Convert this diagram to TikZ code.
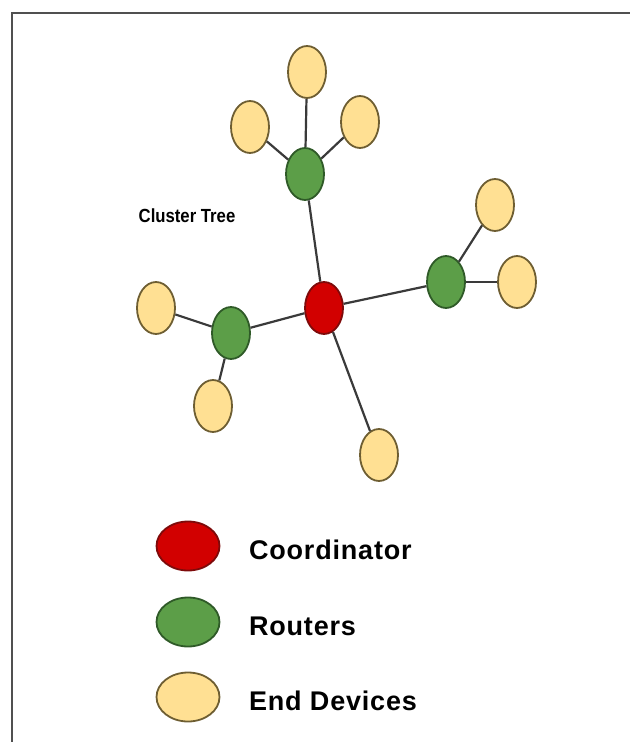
\documentclass[tikz,border=0pt]{standalone}
\usepackage{fontspec}
\setmainfont{Liberation Sans}
\newfontfamily\narrowfont[FakeStretch=0.88]{Liberation Sans}
\newfontfamily\keyfont[LetterSpace=3]{Liberation Sans}
\usetikzlibrary{shapes.geometric}

\definecolor{edfill}{HTML}{FFE093}
\definecolor{edline}{HTML}{6E5E32}
\definecolor{rtfill}{HTML}{5C9E48}
\definecolor{rtline}{HTML}{2F5A28}
\definecolor{cofill}{HTML}{D20000}
\definecolor{coline}{HTML}{7E0A0A}
\definecolor{linkgray}{HTML}{3A3A3A}
\definecolor{framegray}{HTML}{505050}

\begin{document}
\begin{tikzpicture}[x=0.5pt, y=-0.5pt,
  dev/.style={ellipse, draw=edline, line width=0.9pt, inner sep=0pt,
    minimum width=19pt, minimum height=26pt},
  enddev/.style={dev, fill=edfill},
  router/.style={dev, fill=rtfill, draw=rtline},
  coordnode/.style={dev, fill=cofill, draw=coline},
  keydev/.style={minimum width=31.5pt, minimum height=24.5pt},
  keytext/.style={anchor=west, font=\keyfont\bfseries\fontsize{13.5}{16}\selectfont},
  link/.style={draw=linkgray, line width=1.1pt}]
  \useasboundingbox (0,0) rectangle (630,742);
  \draw[framegray, line width=1.4pt] (12,742) -- (12,13) -- (630,13);

  \node[coordnode] (c0) at (324,308) {};
  \node[router] (r1) at (305,174) {};
  \node[router] (r2) at (446,282) {};
  \node[router] (r3) at (231,333) {};

  \node[enddev] (e1) at (307,72) {};
  \node[enddev] (e2) at (250,127) {};
  \node[enddev] (e3) at (360,122) {};
  \node[enddev] (e4) at (495,205) {};
  \node[enddev] (e5) at (517,282) {};
  \node[enddev] (e6) at (156,308) {};
  \node[enddev] (e7) at (213,406) {};
  \node[enddev] (e8) at (379,455) {};

  \node[font=\narrowfont\bfseries\fontsize{9.5}{11}\selectfont] (title) at (187,216) {Cluster Tree};

  \path[link]
  (r1) edge (e1)
  (r1) edge (e2)
  (r1) edge (e3)
  (c0) edge (r1)
  (c0) edge (r2)
  (c0) edge (r3)
  (c0) edge (e8)
  (r2) edge (e4)
  (r2) edge (e5)
  (r3) edge (e6)
  (r3) edge (e7);

  % legend
  \node[coordnode, keydev] (k1) at (188,546) {};
  \node[router, keydev] (k2) at (188,622) {};
  \node[enddev, keydev] (k3) at (188,697) {};
  \node[keytext] (t1) at (242,550) {Coordinator};
  \node[keytext] (t2) at (242,626) {Routers};
  \node[keytext] (t3) at (242,701) {End Devices};
\end{tikzpicture}
\end{document}
